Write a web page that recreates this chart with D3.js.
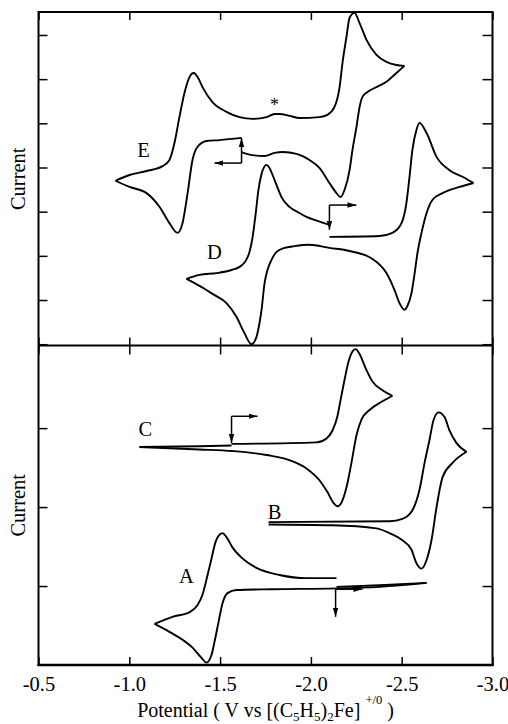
<!DOCTYPE html>
<html>
<head>
<meta charset="utf-8">
<script src="https://cdn.jsdelivr.net/npm/d3@7"></script>
<style>
  body { margin: 0; background: #fff; }
  svg { display: block; font-family: "Liberation Serif", "Times New Roman", serif; }
</style>
</head>
<body>
<div id="chart"></div>
<script>
// axis ticks
var potentialTicks = [-0.5, -1.0, -1.5, -2.0, -2.5, -3.0];
var topCurrentTicks = [0, 1, 2, 3, 4, 5, 6, 7];
var bottomCurrentTicks = [1, 2, 3];

// voltammograms, [potential (V), current (tick units)] in scan order
var curveE = [
  [-1.618, 4.35], [-1.678, 4.28], [-1.745, 4.26], [-1.800, 4.33], [-1.844, 4.35], [-1.921, 4.31],
  [-1.992, 4.17], [-2.047, 3.99], [-2.102, 3.65], [-2.141, 3.42], [-2.163, 3.33], [-2.185, 3.49],
  [-2.213, 3.94], [-2.229, 4.40], [-2.251, 4.92], [-2.268, 5.37], [-2.284, 5.60], [-2.312, 5.71],
  [-2.361, 5.82], [-2.416, 5.94], [-2.471, 6.14], [-2.515, 6.30],
  [-2.471, 6.32], [-2.416, 6.39], [-2.361, 6.55], [-2.306, 6.89], [-2.268, 7.27], [-2.240, 7.50],
  [-2.213, 7.39], [-2.196, 6.96], [-2.174, 6.37], [-2.158, 5.82], [-2.130, 5.37], [-2.091, 5.19],
  [-2.047, 5.14], [-1.937, 5.12], [-1.882, 5.17], [-1.827, 5.21], [-1.800, 5.21], [-1.756, 5.14],
  [-1.678, 5.10], [-1.607, 5.14], [-1.535, 5.26], [-1.458, 5.48], [-1.403, 5.82], [-1.376, 6.05],
  [-1.354, 6.14], [-1.332, 6.05], [-1.304, 5.69], [-1.276, 5.14], [-1.249, 4.56], [-1.221, 4.17],
  [-1.183, 4.03], [-1.095, 3.92], [-1.001, 3.83], [-0.924, 3.70],
  [-1.001, 3.56], [-1.095, 3.42], [-1.166, 3.11], [-1.221, 2.74], [-1.265, 2.52], [-1.293, 2.74],
  [-1.321, 3.42], [-1.348, 4.17], [-1.376, 4.47], [-1.425, 4.60], [-1.497, 4.62], [-1.618, 4.67]
];

var curveD = [
  [-2.102, 2.43], [-2.378, 2.45], [-2.449, 2.52], [-2.499, 2.74], [-2.526, 3.20], [-2.543, 3.79],
  [-2.559, 4.40], [-2.581, 4.85], [-2.598, 5.01], [-2.637, 4.78], [-2.692, 4.24], [-2.763, 3.94],
  [-2.835, 3.79], [-2.895, 3.65],
  [-2.818, 3.56], [-2.725, 3.42], [-2.670, 3.27], [-2.637, 2.97], [-2.609, 2.52], [-2.587, 2.07],
  [-2.570, 1.57], [-2.554, 1.16], [-2.532, 0.87], [-2.515, 0.78], [-2.488, 0.93], [-2.460, 1.23],
  [-2.416, 1.61], [-2.339, 1.93], [-2.213, 2.11], [-2.102, 2.18], [-1.992, 2.25], [-1.910, 2.22],
  [-1.855, 2.18], [-1.811, 2.09], [-1.783, 1.91], [-1.761, 1.68], [-1.745, 1.39], [-1.728, 0.77],
  [-1.717, 0.48], [-1.700, 0.16], [-1.673, 0.00], [-1.634, 0.25], [-1.590, 0.62], [-1.535, 0.93],
  [-1.458, 1.14], [-1.387, 1.32], [-1.315, 1.48],
  [-1.387, 1.57], [-1.480, 1.61], [-1.563, 1.68], [-1.607, 1.75], [-1.640, 1.88], [-1.662, 2.09],
  [-1.678, 2.40], [-1.695, 2.92], [-1.711, 3.49], [-1.728, 3.85], [-1.756, 4.06], [-1.772, 3.99],
  [-1.789, 3.83], [-1.811, 3.60], [-1.838, 3.33], [-1.882, 3.11], [-1.937, 2.97], [-1.976, 2.88],
  [-2.036, 2.79], [-2.102, 2.70]
];

var curveC = [
  [-1.563, 2.80], [-2.031, 2.82], [-2.086, 2.87], [-2.119, 2.97], [-2.147, 3.16], [-2.158, 3.29],
  [-2.185, 3.61], [-2.207, 3.84], [-2.229, 3.97], [-2.246, 4.00], [-2.268, 3.94], [-2.301, 3.76],
  [-2.339, 3.59], [-2.394, 3.48], [-2.449, 3.41],
  [-2.394, 3.34], [-2.323, 3.23], [-2.279, 3.11], [-2.251, 2.91], [-2.224, 2.57], [-2.196, 2.25],
  [-2.169, 2.06], [-2.147, 2.01], [-2.125, 2.05], [-2.091, 2.19], [-2.047, 2.34], [-1.981, 2.48],
  [-1.899, 2.58], [-1.756, 2.66], [-1.568, 2.71], [-1.387, 2.73], [-1.056, 2.76],
  [-1.387, 2.77], [-1.563, 2.78]
];

var curveB = [
  [-1.767, 1.81], [-2.433, 1.82], [-2.504, 1.85], [-2.559, 1.96], [-2.598, 2.22], [-2.626, 2.56],
  [-2.653, 2.85], [-2.675, 3.10], [-2.703, 3.20], [-2.736, 3.14], [-2.763, 2.97], [-2.802, 2.81],
  [-2.857, 2.70],
  [-2.780, 2.56], [-2.725, 2.38], [-2.692, 2.00], [-2.664, 1.58], [-2.637, 1.33], [-2.609, 1.22],
  [-2.581, 1.29], [-2.554, 1.46], [-2.504, 1.58], [-2.433, 1.67], [-2.361, 1.73], [-2.119, 1.77],
  [-1.767, 1.78]
];

var curveA = [
  [-2.141, 0.99], [-2.378, 1.01], [-2.637, 1.04],
  [-2.378, 0.99], [-2.141, 0.97], [-1.789, 0.96], [-1.590, 0.95], [-1.541, 0.91], [-1.513, 0.78],
  [-1.491, 0.54], [-1.469, 0.29], [-1.453, 0.13], [-1.425, 0.03], [-1.398, 0.09], [-1.348, 0.22],
  [-1.293, 0.32], [-1.221, 0.42], [-1.139, 0.52],
  [-1.238, 0.61], [-1.332, 0.67], [-1.376, 0.76], [-1.403, 0.89], [-1.431, 1.14], [-1.453, 1.35],
  [-1.475, 1.56], [-1.497, 1.65], [-1.513, 1.67], [-1.535, 1.62], [-1.568, 1.49], [-1.623, 1.35],
  [-1.700, 1.23], [-1.827, 1.14], [-1.976, 1.10], [-2.141, 1.10]
];

// scan direction arrows: [corner potential, corner current, vertical end current, horizontal end potential]
var arrowsTop = [[-1.618, 4.10, 4.67, -1.469], [-2.102, 3.15, 2.59, -2.251]];
var arrowsBottom = [[-1.563, 3.15, 2.81, -1.706], [-2.136, 0.96, 0.61, -2.284]];

// curve labels: [text, potential, current at baseline]
var labelsTop = [["E", -1.078, 4.24], ["D", -1.469, 1.93], ["*", -1.800, 5.28]];
var labelsBottom = [["C", -1.089, 2.90], ["B", -1.800, 1.85], ["A", -1.315, 1.04]];

var width = 508, height = 724;
var edgeL = 38.5, edgeR = 492.5, edgeT = 12, edgeM = 345.5, edgeB = 665;

var svg = d3.select("#chart").append("svg")
    .attr("width", width)
    .attr("height", height);

svg.append("defs").append("marker")
    .attr("id", "head")
    .attr("viewBox", "0 0 10 6")
    .attr("refX", 10).attr("refY", 3)
    .attr("markerWidth", 9).attr("markerHeight", 6)
    .attr("markerUnits", "userSpaceOnUse")
    .attr("orient", "auto")
    .append("path").attr("d", "M0,0L10,3L0,6Z").attr("fill", "#000");

var x = d3.scaleLinear().domain([-0.5, -3.0]).range([edgeL, edgeR]);
var yTop = d3.scaleLinear().domain([0, 7.52]).range([344.2, edgeT]);
var yBot = d3.scaleLinear().domain([0, 4.04]).range([edgeB, 346]);

function styleAxis(g) {
    g.select(".domain").remove();
    g.selectAll(".tick line").attr("stroke", "#000").attr("stroke-width", 1.5);
}

// x ticks on every horizontal edge, pointing inward
svg.append("g").attr("transform", `translate(0,${edgeT})`)
    .call(d3.axisTop(x).tickValues(potentialTicks).tickSize(-8).tickFormat(""))
    .call(styleAxis);
svg.append("g").attr("transform", `translate(0,${edgeM})`)
    .call(d3.axisBottom(x).tickValues(potentialTicks).tickSize(-8).tickFormat(""))
    .call(styleAxis);
svg.append("g").attr("transform", `translate(0,${edgeM})`)
    .call(d3.axisTop(x).tickValues(potentialTicks).tickSize(-9).tickFormat(""))
    .call(styleAxis);
svg.append("g").attr("transform", `translate(0,${edgeB})`)
    .call(d3.axisBottom(x).tickValues(potentialTicks).tickSize(-8).tickPadding(11)
        .tickFormat(function (d) { return d.toFixed(1); }))
    .call(styleAxis)
    .call(function (g) {
        g.attr("font-family", null).attr("font-size", null);
        g.selectAll("text").attr("fill", "#000").attr("font-size", 20.5);
    });

// y ticks, left and right
[[yTop, topCurrentTicks], [yBot, bottomCurrentTicks]].forEach(function (p) {
    svg.append("g").attr("transform", `translate(${edgeL},0)`)
        .call(d3.axisLeft(p[0]).tickValues(p[1]).tickSize(-9).tickFormat(""))
        .call(styleAxis);
    svg.append("g").attr("transform", `translate(${edgeR},0)`)
        .call(d3.axisRight(p[0]).tickValues(p[1]).tickSize(-10).tickFormat(""))
        .call(styleAxis);
});

// frame
var frame = svg.append("g").attr("stroke", "#000").attr("fill", "none");
frame.append("line").attr("x1", edgeL).attr("x2", edgeL).attr("y1", edgeT - 1).attr("y2", edgeB + 1).attr("stroke-width", 2);
frame.append("line").attr("x1", edgeR).attr("x2", edgeR).attr("y1", edgeT - 1).attr("y2", edgeB + 1).attr("stroke-width", 2);
frame.append("line").attr("x1", edgeL).attr("x2", edgeR).attr("y1", edgeT).attr("y2", edgeT).attr("stroke-width", 2);
frame.append("line").attr("x1", edgeL).attr("x2", edgeR).attr("y1", edgeM).attr("y2", edgeM).attr("stroke-width", 2);
frame.append("line").attr("x1", edgeL - 1).attr("x2", edgeR + 1).attr("y1", edgeB).attr("y2", edgeB).attr("stroke-width", 2.5);

// split a voltammogram into its sweeps at the switching potentials
function sweeps(pts) {
    var out = [], cur = [pts[0]];
    for (var i = 1; i < pts.length; i++) {
        cur.push(pts[i]);
        if (i < pts.length - 1) {
            var d0 = pts[i][0] - pts[i - 1][0];
            var d1 = pts[i + 1][0] - pts[i][0];
            if (d0 * d1 < 0) {
                out.push(cur);
                cur = [pts[i]];
            }
        }
    }
    out.push(cur);
    return out;
}

function drawCurve(pts, y) {
    var line = d3.line()
        .x(function (d) { return x(d[0]); })
        .y(function (d) { return y(d[1]); })
        .curve(d3.curveMonotoneX);
    svg.append("g").selectAll("path")
        .data(sweeps(pts))
        .enter()
        .append("path")
        .attr("d", line)
        .attr("fill", "none")
        .attr("stroke", "#000")
        .attr("stroke-width", 1.9)
        .attr("stroke-linejoin", "miter");
}

function drawArrows(list, y) {
    list.forEach(function (a) {
        var g = svg.append("g").attr("stroke", "#000").attr("stroke-width", 1.5);
        g.append("line")
            .attr("x1", x(a[0])).attr("y1", y(a[1]))
            .attr("x2", x(a[0])).attr("y2", y(a[2]))
            .attr("marker-end", "url(#head)");
        g.append("line")
            .attr("x1", x(a[0])).attr("y1", y(a[1]))
            .attr("x2", x(a[3])).attr("y2", y(a[1]))
            .attr("marker-end", "url(#head)");
    });
}

function drawLabels(list, y) {
    svg.append("g").selectAll("text")
        .data(list)
        .enter()
        .append("text")
        .attr("x", function (d) { return x(d[1]); })
        .attr("y", function (d) { return y(d[2]); })
        .attr("text-anchor", "middle")
        .attr("font-size", function (d) { return d[0] === "*" ? 18 : 20.5; })
        .text(function (d) { return d[0]; });
}

drawCurve(curveE, yTop);
drawCurve(curveD, yTop);
drawCurve(curveC, yBot);
drawCurve(curveB, yBot);
drawCurve(curveA, yBot);
drawArrows(arrowsTop, yTop);
drawArrows(arrowsBottom, yBot);
drawLabels(labelsTop, yTop);
drawLabels(labelsBottom, yBot);

// y titles
[(edgeT + edgeM) / 2, (edgeM + edgeB) / 2].forEach(function (cy) {
    svg.append("text")
        .attr("transform", `translate(25,${cy}) rotate(-90)`)
        .attr("text-anchor", "middle")
        .attr("font-size", 20.5)
        .text("Current");
});

// x title
var title = svg.append("text")
    .attr("x", 265.5)
    .attr("y", 716.5)
    .attr("text-anchor", "middle")
    .attr("font-size", 20);
title.append("tspan").text("Potential ( V vs [(C");
title.append("tspan").attr("font-size", 13).attr("dy", 4).text("5");
title.append("tspan").attr("dy", -4).text("H");
title.append("tspan").attr("font-size", 13).attr("dy", 4).text("5");
title.append("tspan").attr("dy", -4).text(")");
title.append("tspan").attr("font-size", 13).attr("dy", 4).text("2");
title.append("tspan").attr("dy", -4).text("Fe] ");
title.append("tspan").attr("font-size", 12.5).attr("dy", -13).text("+/0");
title.append("tspan").attr("dy", 13).text(" )");
</script>
</body>
</html>
